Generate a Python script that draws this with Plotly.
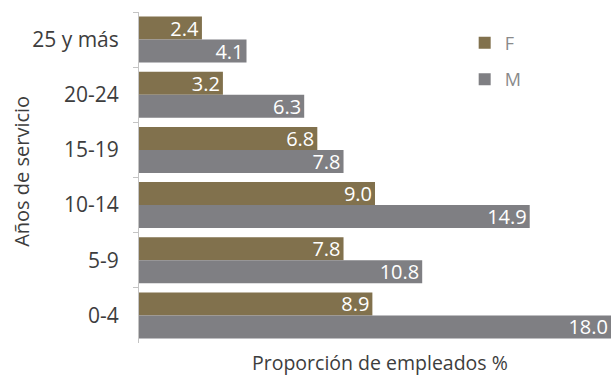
import plotly.graph_objects as go

# Service-length bands, listed top to bottom
categories = ["25 y más", "20-24", "15-19", "10-14", "5-9", "0-4"]
f_values = [2.4, 3.2, 6.8, 9.0, 7.8, 8.9]
m_values = [4.1, 6.3, 7.8, 14.9, 10.8, 18.0]

x_title = "Proporción de empleados %"
y_title = "Años de servicio"

F_COLOR = "#81714d"
M_COLOR = "#7f7f83"
FONT = "Open Sans"
TEXT_COLOR = "#3d3d3d"

fig = go.Figure()
for name, vals, color, grp in [("F", f_values, F_COLOR, "f"), ("M", m_values, M_COLOR, "m")]:
    fig.add_trace(go.Bar(
        y=categories, x=vals, name=name, orientation="h",
        marker=dict(color=color, line=dict(width=0)),
        text=[f"{v:.1f}" for v in vals],
        textposition="inside", insidetextanchor="end",
        insidetextfont=dict(color="white", size=20, family=FONT),
        constraintext="none", cliponaxis=True,
        legendgroup=grp,
    ))

fig.update_layout(
    width=611, height=377,
    margin=dict(l=139, r=0, t=12, b=34),
    paper_bgcolor="white", plot_bgcolor="white",
    barmode="group", bargap=0.165, bargroupgap=0,
    font=dict(family=FONT, color=TEXT_COLOR),
    showlegend=True,
    legend=dict(
        x=0.69, y=0.962, xanchor="left", yanchor="top",
        traceorder="grouped", tracegroupgap=10,
        font=dict(size=18, color="#8a8a8a"),
        itemwidth=30, bgcolor="rgba(0,0,0,0)",
    ),
    xaxis=dict(
        range=[0, 18.0], showticklabels=False, showgrid=False,
        zeroline=False, showline=False, ticks="",
    ),
    yaxis=dict(
        autorange="reversed", type="category",
        showline=True, linecolor="#c4c4c4", linewidth=1,
        ticks="outside", tickson="boundaries", ticklen=5, tickcolor="#c4c4c4",
        tickfont=dict(size=21, color=TEXT_COLOR),
        ticklabelstandoff=15, showgrid=False,
    ),
    annotations=[
        dict(text=x_title, xref="paper", yref="paper", x=0.51, y=-0.059,
             xanchor="center", yanchor="middle", showarrow=False,
             font=dict(size=19.5, color=TEXT_COLOR)),
        dict(text=y_title, xref="paper", yref="paper", x=-0.248, y=0.52,
             xanchor="center", yanchor="middle", textangle=-90, showarrow=False,
             font=dict(size=20, color=TEXT_COLOR)),
    ],
)

fig.write_html("out.html")
